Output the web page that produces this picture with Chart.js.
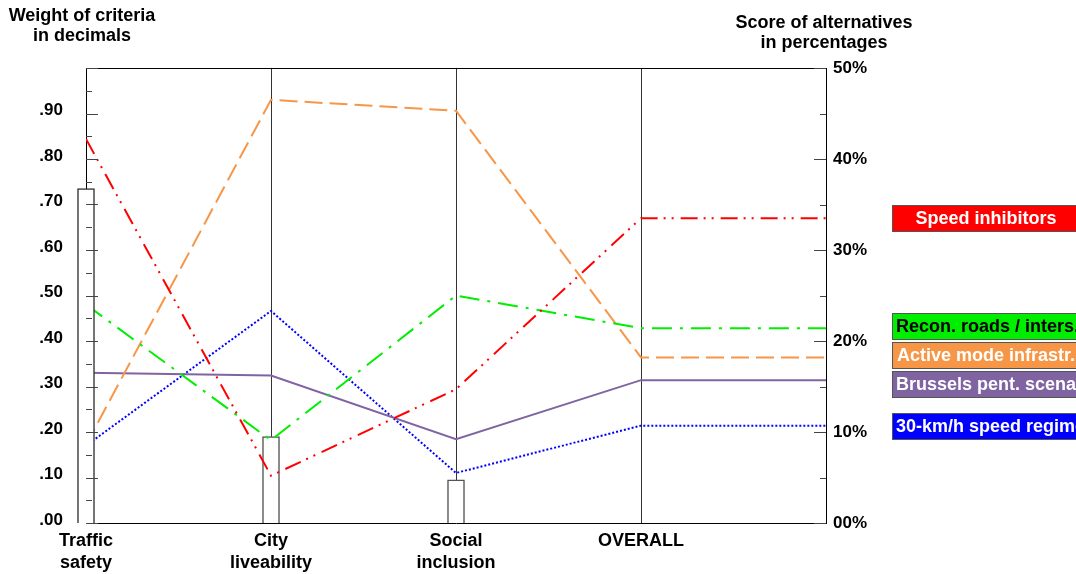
<!DOCTYPE html>
<html>
<head>
<meta charset="utf-8">
<script src="https://cdn.jsdelivr.net/npm/chart.js@4.4.1/dist/chart.umd.min.js"></script>
<style>
  html, body { margin: 0; padding: 0; background: #fff; }
  #wrap { width: 1076px; height: 574px; position: relative; }
</style>
</head>
<body>
<div id="wrap"><canvas id="mcda"></canvas></div>
<script>
// criteria and their weights (left axis, decimals)
const criteria = ['Traffic safety', 'City liveability', 'Social inclusion', 'OVERALL'];
const criteriaLabels = [['Traffic', 'safety'], ['City', 'liveability'], ['Social', 'inclusion'], ['OVERALL'], ''];
const weightsTop = [0.735];          // traffic safety bar (drawn over the lines)
const weightsRest = [0.19, 0.095];   // city liveability, social inclusion

// scores of alternatives in % (last value = line carried to the right edge)
const speedInhibitors = [42.2, 5.2, 14.7, 33.5, 33.5];
const reconRoads      = [24.0, 9.1, 25.0, 21.4, 21.4];
const activeMode      = [8.6, 46.5, 45.3, 18.2, 18.2];
const brusselsPent    = [16.5, 16.2, 9.2, 15.7, 15.7];
const speedRegime     = [8.5, 23.3, 5.5, 10.7, 10.7];

const FONT = "'Liberation Sans', Arial, sans-serif";

function toPoints(arr, start) {
    return arr.map((v, i) => ({ x: i + (start || 0), y: v }));
}

function lineSet(label, values, color, dash, labelColor) {
    return {
        type: 'line',
        label: label,
        data: toPoints(values),
        borderColor: color,
        borderWidth: 2,
        borderDash: dash,
        pointRadius: 0,
        tension: 0,
        yAxisID: 'yR',
        order: 5,
        labelColor: labelColor
    };
}

// frame, tick marks, titles
const decorPlugin = {
    id: 'decor',
    afterDraw(chart) {
        const ctx = chart.ctx;
        const a = chart.chartArea;
        const yL = chart.scales.yL;
        const yR = chart.scales.yR;
        ctx.save();
        ctx.strokeStyle = '#000';
        ctx.lineWidth = 1;
        ctx.beginPath();
        ctx.moveTo(a.left, a.top + 0.5);
        ctx.lineTo(a.right, a.top + 0.5);
        ctx.stroke();

        ctx.strokeStyle = '#444';
        for (let i = 0; i <= 20; i++) {
            const len = i % 2 === 0 ? 12 : 6;
            const y = Math.round(yL.getPixelForValue(i * 0.05)) + 0.5;
            ctx.beginPath();
            ctx.moveTo(a.left, y);
            ctx.lineTo(a.left + len, y);
            ctx.stroke();
        }
        for (let i = 0; i <= 10; i++) {
            const len = i % 2 === 0 ? 12 : 6;
            const y = Math.round(yR.getPixelForValue(i * 5)) + 0.5;
            ctx.beginPath();
            ctx.moveTo(a.right, y);
            ctx.lineTo(a.right - len, y);
            ctx.stroke();
        }

        ctx.fillStyle = '#000';
        ctx.font = 'bold 18px ' + FONT;
        ctx.textAlign = 'center';
        ctx.textBaseline = 'alphabetic';
        ctx.fillText('Weight of criteria', 82, 21);
        ctx.fillText('in decimals', 82, 41);
        ctx.fillText('Score of alternatives', 824, 28);
        ctx.fillText('in percentages', 824, 48);
        ctx.restore();
    }
};

// coloured labels at the end of each line
const endLabelPlugin = {
    id: 'endLabels',
    afterDraw(chart) {
        const ctx = chart.ctx;
        const a = chart.chartArea;
        const yR = chart.scales.yR;
        const boxH = 26, gap = 3, left = a.right + 66, boxW = 188;
        const items = chart.data.datasets
            .filter(ds => ds.type === 'line')
            .map(ds => ({
                text: ds.label,
                color: ds.borderColor,
                textColor: ds.labelColor,
                y: yR.getPixelForValue(ds.data[ds.data.length - 1].y)
            }))
            .sort((p, q) => p.y - q.y);
        // push overlapping boxes apart
        for (let iter = 0; iter < 50; iter++) {
            for (let i = 1; i < items.length; i++) {
                const d = items[i].y - items[i - 1].y;
                if (d < boxH + gap) {
                    const s = (boxH + gap - d) / 2;
                    items[i].y += s;
                    items[i - 1].y -= s;
                }
            }
        }
        ctx.save();
        ctx.font = 'bold 18px ' + FONT;
        ctx.textBaseline = 'middle';
        ctx.textAlign = 'left';
        items.forEach(it => {
            const top = Math.round(it.y - boxH / 2);
            ctx.fillStyle = it.color;
            ctx.fillRect(left, top, boxW, boxH);
            ctx.strokeStyle = '#555';
            ctx.lineWidth = 1;
            ctx.strokeRect(left + 0.5, top + 0.5, boxW, boxH);
            const w = ctx.measureText(it.text).width;
            const tx = Math.max(left + 4, left + boxW / 2 - w / 2);
            ctx.fillStyle = it.textColor;
            ctx.fillText(it.text, tx, top + boxH / 2 + 1);
        });
        ctx.restore();
    }
};

const ctx = document.getElementById('mcda').getContext('2d');
new Chart(ctx, {
    data: {
        datasets: [
            {
                type: 'bar',
                label: 'weight',
                data: toPoints(weightsTop, 0),
                backgroundColor: '#fff',
                borderColor: '#333',
                borderWidth: 1.5,
                barThickness: 17,
                grouped: false,
                clip: false,
                yAxisID: 'yL',
                order: 0
            },
            {
                type: 'bar',
                label: 'weight2',
                data: toPoints(weightsRest, 1),
                backgroundColor: '#fff',
                borderColor: '#555',
                borderWidth: 1.5,
                barThickness: 17,
                grouped: false,
                clip: false,
                yAxisID: 'yL',
                order: 10
            },
            lineSet('Speed inhibitors', speedInhibitors, '#ff0000', [17, 6, 2, 6, 2, 7], '#fff'),
            lineSet('Recon. roads / inters.', reconRoads, '#00ee00', [20, 8, 3, 8], '#000'),
            lineSet('Active mode infrastr.', activeMode, '#f79646', [18, 7], '#fff'),
            lineSet('Brussels pent. scenario', brusselsPent, '#8064a2', [], '#fff'),
            lineSet('30-km/h speed regime', speedRegime, '#0000ff', [2, 2], '#fff')
        ]
    },
    options: {
        responsive: true,
        maintainAspectRatio: false,
        animation: false,
        layout: { padding: { top: 68, left: 0, right: 0, bottom: 0 } },
        plugins: {
            legend: { display: false },
            tooltip: { enabled: false }
        },
        scales: {
            x: {
                type: 'linear',
                min: 0,
                max: 4,
                offset: false,
                afterFit(scale) { scale.height = 51; },
                afterBuildTicks(scale) {
                    scale.ticks = [0, 1, 2, 3, 4].map(v => ({ value: v }));
                },
                ticks: {
                    autoSkip: false,
                    maxRotation: 0,
                    padding: 8,
                    color: '#000',
                    font: { family: FONT, size: 18, weight: 'bold', lineHeight: 1.17 },
                    callback: v => criteriaLabels[v]
                },
                grid: { color: '#333', lineWidth: 1, drawTicks: false, offset: false },
                border: { color: '#000', width: 1 }
            },
            yL: {
                type: 'linear',
                position: 'left',
                min: 0,
                max: 1,
                afterFit(scale) { scale.width = 86; },
                ticks: {
                    stepSize: 0.1,
                    padding: 23,
                    labelOffset: -3,
                    color: '#000',
                    font: { family: FONT, size: 17, weight: 'bold' },
                    callback: v => v >= 0.999 ? '' : '.' + String(Math.round(v * 100)).padStart(2, '0')
                },
                grid: { display: false, drawTicks: false },
                border: { color: '#000', width: 1 }
            },
            yR: {
                type: 'linear',
                position: 'right',
                min: 0,
                max: 50,
                afterFit(scale) { scale.width = 250; },
                ticks: {
                    stepSize: 10,
                    padding: 7,
                    color: '#000',
                    font: { family: FONT, size: 17, weight: 'bold' },
                    callback: v => String(v).padStart(2, '0') + '%'
                },
                grid: { display: false, drawTicks: false },
                border: { color: '#000', width: 1 }
            }
        }
    },
    plugins: [decorPlugin, endLabelPlugin]
});
</script>
</body>
</html>
